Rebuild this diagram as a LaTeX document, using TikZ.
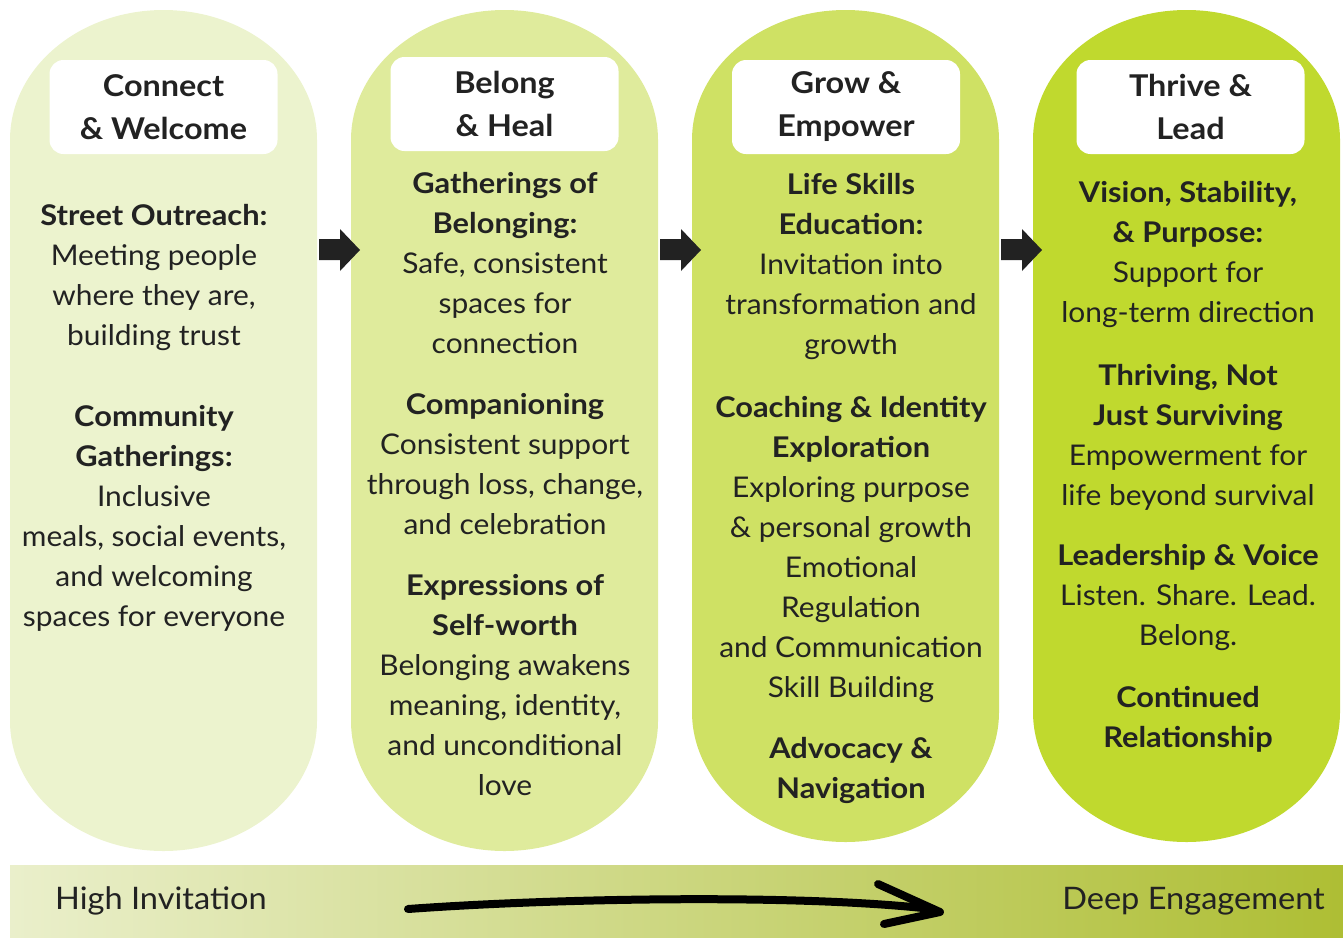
\documentclass[tikz,border=0pt]{standalone}
\usepackage{fontspec}
\setmainfont{Lato}[FakeStretch=1.05,BoldFeatures={FakeStretch=1.08}]
\definecolor{ink}{HTML}{222222}
\definecolor{pillA}{RGB}{236,243,206}
\definecolor{pillB}{RGB}{223,235,156}
\definecolor{pillC}{RGB}{207,225,100}
\definecolor{pillD}{RGB}{192,217,46}
\definecolor{barL}{RGB}{234,239,203}
\definecolor{barM}{RGB}{207,217,138}
\definecolor{barR}{RGB}{174,190,52}
\begin{document}
\begin{tikzpicture}[x=1pt,y=-1pt,
  titlebox/.style={fill=white,rounded corners=14pt,minimum width=228pt,minimum height=94pt,
    align=center,text=ink,font=\fontsize{30}{43}\selectfont\bfseries},
  body/.style={align=center,text=ink,inner sep=0pt,font=\fontsize{28.5}{40}\selectfont},
  barlabel/.style={text=ink,inner sep=0pt,font=\fontsize{31}{36}\selectfont}]
\useasboundingbox (0,0) rectangle (1343,937);
% stages
\fill[pillA] (10,721) -- (10,140) arc[start angle=180,end angle=360,x radius=153.5,y radius=130]
  -- (317,721) arc[start angle=0,end angle=180,x radius=153.5,y radius=130] -- cycle;
\fill[pillB,shift={(341,0)}] (10,721) -- (10,140) arc[start angle=180,end angle=360,x radius=153.5,y radius=130]
  -- (317,721) arc[start angle=0,end angle=180,x radius=153.5,y radius=130] -- cycle;
\fill[pillC,shift={(682,0)}] (10,712) -- (10,140) arc[start angle=180,end angle=360,x radius=153.5,y radius=130]
  -- (317,712) arc[start angle=0,end angle=180,x radius=153.5,y radius=130] -- cycle;
\fill[pillD,shift={(1023,0)}] (10,712) -- (10,140) arc[start angle=180,end angle=360,x radius=153.5,y radius=130]
  -- (317,712) arc[start angle=0,end angle=180,x radius=153.5,y radius=130] -- cycle;
% block arrows
\fill[ink] (319,239) -- (340,239) -- (340,229) -- (360,250) -- (340,271) -- (340,260) -- (319,260) -- cycle;
\fill[ink,shift={(341,0)}] (319,239) -- (340,239) -- (340,229) -- (360,250) -- (340,271) -- (340,260) -- (319,260) -- cycle;
\fill[ink,shift={(682,0)}] (319,239) -- (340,239) -- (340,229) -- (360,250) -- (340,271) -- (340,260) -- (319,260) -- cycle;
% titles
\node[titlebox] (connect) at (163.5,107) {Connect\\\& Welcome};
\node[titlebox] (belong) at (504.5,104) {Belong\\\& Heal};
\node[titlebox] (grow) at (846,107) {Grow \&\\Empower};
\node[titlebox] (thrive) at (1190.5,107) {Thrive \&\\Lead};
% connect & welcome
\node[body] (outreach) at (154,278) {\textbf{Street Outreach:}\\Meeting people\\where they are,\\building trust};
\node[body] (community) at (154,518) {\textbf{Community}\\\textbf{Gatherings:}\\Inclusive\\meals, social events,\\and welcoming\\spaces for everyone};
% belong & heal
\node[body] (gatherings) at (505,263) {\textbf{Gatherings of}\\\textbf{Belonging:}\\Safe, consistent\\spaces for\\connection};
\node[body] (companion) at (505,464) {\textbf{Companioning}\\Consistent support\\through loss, change,\\and celebration};
\node[body] (selfworth) at (505,685) {\textbf{Expressions of}\\\textbf{Self-worth}\\Belonging awakens\\meaning, identity,\\and unconditional\\love};
% grow & empower
\node[body] (lifeskills) at (851,267) {\textbf{Life Skills}\\\textbf{Education:}\\Invitation into\\transformation and\\growth};
\node[body] (coaching) at (851,549) {\textbf{Coaching \& Identity}\\\textbf{Exploration}\\Exploring purpose\\\& personal growth\\Emotional\\Regulation\\and Communication\\Skill Building};
\node[body] (advocacy) at (851,770) {\textbf{Advocacy \&}\\\textbf{Navigation}};
% thrive & lead
\node[body] (vision) at (1188,255) {\textbf{Vision, Stability,}\\\textbf{\& Purpose:}\\Support for\\long-term direction};
\node[body] (thriving) at (1188,437) {\textbf{Thriving, Not}\\\textbf{Just Surviving}\\Empowerment for\\life beyond survival};
\node[body] (leadership) at (1188,598) {\textbf{Leadership \& Voice}\\Listen. Share. Lead.\\Belong.};
\node[body] (continued) at (1188,719) {\textbf{Continued}\\\textbf{Relationship}};
% engagement bar
\shade[left color=barL,middle color=barM,right color=barR] (10,865) rectangle (1343,937);
\node[barlabel,anchor=west] (invitation) at (55,901) {High Invitation};
\node[barlabel,anchor=east] (engagement) at (1325,901) {Deep Engagement};
\coordinate (sweepstart) at (408,909);
\coordinate (sweeptip) at (940,912);
\draw[line width=8pt,line cap=round] (sweepstart) .. controls (560,898) and (800,894) .. (932,909);
\draw[line width=8pt,line cap=round,line join=round] (878,884) -- (sweeptip) -- (884,924);
\end{tikzpicture}
\end{document}
